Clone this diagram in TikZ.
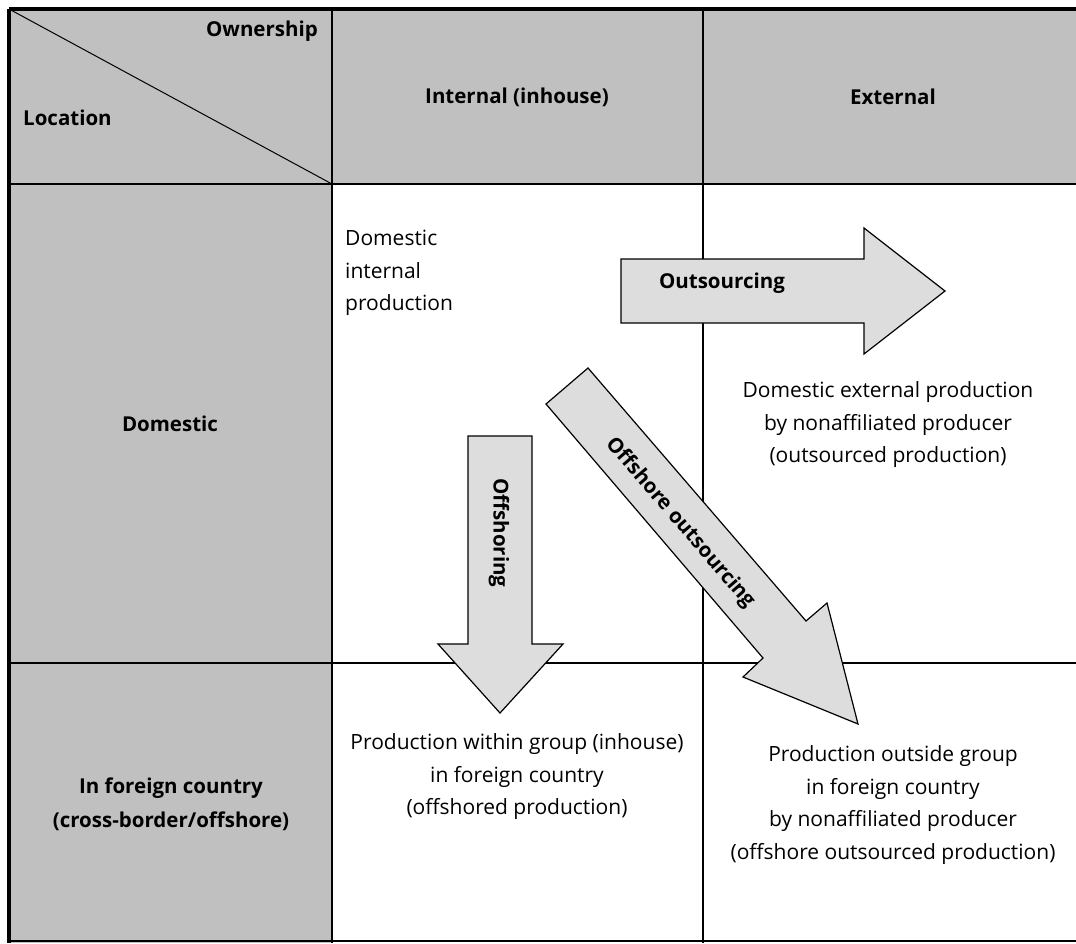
\documentclass[tikz,border=0pt]{standalone}
\usepackage{fontspec}
\setmainfont{Open Sans}
\usepackage{xcolor}
\usepackage{tikz}

\definecolor{headgray}{RGB}{192,192,192}
\definecolor{arrowgray}{RGB}{221,221,221}

\begin{document}
\begin{tikzpicture}[x=1pt,y=-1pt,
    every node/.style={inner sep=0pt,align=center,font=\fontsize{21}{32.5}\selectfont},
    headtext/.style={font=\bfseries\fontsize{20.5}{34}\selectfont},
    gridline/.style={line width=1.3pt},
    frameline/.style={line width=3.5pt},
    movearrow/.style={fill=arrowgray,draw=black,line width=1.2pt,line join=miter}]
  \useasboundingbox (0,0) rectangle (1076,943);

  % shaded header row and first column
  \fill[headgray] (9,9) rectangle (1076,184);
  \fill[headgray] (9,9) rectangle (332,943);

  % grid
  \draw[gridline] (9,184) -- (1076,184);
  \draw[gridline] (9,663) -- (1076,663);
  \draw[gridline] (9,941) -- (1076,941);
  \draw[gridline] (332,9) -- (332,943);
  \draw[gridline] (703,9) -- (703,943);
  \draw[line width=1pt] (9,9) -- (332,184);
  \draw[frameline] (9,9) -- (1076,9);
  \draw[frameline] (9,9) -- (9,943);

  % headings
  \node[headtext,anchor=east] (owner) at (318,31) {Ownership};
  \node[headtext,anchor=west] (loc) at (23,118) {Location};
  \node[headtext] (internal) at (517,97) {Internal (inhouse)};
  \node[headtext] (external) at (893,97) {External};
  \node[headtext] (domestic) at (170,424) {Domestic};
  \node[headtext] (foreign) at (171,804) {In foreign country\\(cross-border/offshore)};

  % cells
  \node[anchor=west,align=left] (domint) at (345,273) {Domestic\\internal\\production};
  \node (domext) at (888,425) {Domestic external production\\by nonaffiliated producer\\(outsourced production)};
  \node (forint) at (517,777) {Production within group (inhouse)\\in foreign country\\(offshored production)};
  \node (forext) at (893,805) {Production outside group\\in foreign country\\by nonaffiliated producer\\(offshore outsourced production)};

  % arrows
  \draw[movearrow] (621,259) -- (864,259) -- (864,228) -- (945,291) -- (864,354) -- (864,323) -- (621,323) -- cycle;
  \draw[movearrow] (468,436) -- (532,436) -- (532,644) -- (563,644) -- (500,713) -- (438,644) -- (468,644) -- cycle;
  \draw[movearrow] (588,368) -- (806,621) -- (827,603) -- (858,724) -- (743,677) -- (763,658) -- (546,404) -- cycle;

  \node[headtext] (outsrc) at (722,283) {Outsourcing};
  \node[headtext,rotate=-90] (offsh) at (499,533) {Offshoring};
  \node[headtext,rotate=-49.3] (offout) at (680,523) {Offshore outsourcing};
\end{tikzpicture}
\end{document}
